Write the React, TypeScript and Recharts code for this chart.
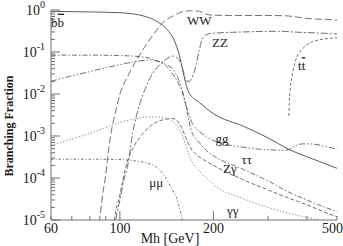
import { LineChart, Line, XAxis, YAxis, ReferenceDot } from "recharts";

const FONT = "'Liberation Serif', 'Times New Roman', serif";
const AXIS = "#707070";
const INK = "#1a1a1a";

// [Mh GeV, branching fraction]
const bbPts = [[60, 0.93], [80, 0.9], [100, 0.86], [110, 0.81], [120, 0.71], [130, 0.56], [140, 0.38], [150, 0.18], [155, 0.09], [160, 0.032], [165, 0.013], [170, 0.0088], [175, 0.0073], [180, 0.0063], [185, 0.0054], [190, 0.0045], [200, 0.0034], [250, 0.0017], [300, 0.0009], [350, 0.00048], [400, 0.00032], [450, 0.00023], [500, 0.00017]];
const wwPts = [[85, 5e-6], [86, 1e-5], [88, 4e-5], [90, 1.2e-4], [92, 5e-4], [94, 1.4e-3], [97, 4e-3], [100, 0.01], [105, 0.023], [110, 0.045], [120, 0.13], [130, 0.3], [136, 0.46], [140, 0.56], [150, 0.75], [160, 0.92], [170, 0.96], [180, 0.93], [190, 0.79], [200, 0.75], [250, 0.74], [300, 0.74], [340, 0.73], [360, 0.7], [400, 0.63], [450, 0.6], [500, 0.58]];
const zzPts = [[96, 5e-6], [97, 1e-5], [100, 3e-5], [103, 9e-5], [106, 2e-4], [110, 1.2e-3], [113, 3e-3], [116, 6e-3], [120, 0.012], [125, 0.024], [130, 0.038], [135, 0.052], [140, 0.065], [148, 0.08], [152, 0.075], [156, 0.06], [160, 0.035], [163, 0.021], [167, 0.02], [172, 0.028], [176, 0.05], [180, 0.11], [184, 0.2], [190, 0.26], [200, 0.28], [250, 0.3], [300, 0.31], [340, 0.31], [360, 0.3], [400, 0.29], [450, 0.28], [500, 0.27]];
const ttPts = [[350, 3e-3], [351, 0.006], [353, 0.012], [356, 0.02], [360, 0.032], [365, 0.05], [372, 0.08], [380, 0.1], [400, 0.15], [438, 0.195], [470, 0.21], [500, 0.22]];
const ggPts = [[60, 0.02], [70, 0.027], [80, 0.034], [90, 0.042], [100, 0.05], [110, 0.058], [120, 0.063], [125, 0.064], [130, 0.062], [140, 0.052], [150, 0.034], [155, 0.021], [160, 0.009], [165, 0.0042], [170, 0.0022], [180, 0.0013], [190, 0.00095], [200, 0.00078], [250, 0.00054], [300, 0.00047], [340, 0.00046], [355, 0.0005], [370, 0.0006], [390, 0.00065], [420, 0.00064], [460, 0.00056], [500, 0.00049]];
const tautauPts = [[60, 0.084], [80, 0.084], [100, 0.082], [110, 0.08], [120, 0.075], [130, 0.065], [136, 0.055], [140, 0.048], [150, 0.026], [155, 0.017], [160, 0.01], [165, 0.0035], [170, 0.0013], [180, 0.0007], [190, 0.00045], [200, 0.00034], [250, 0.00016], [300, 8.5e-5], [350, 4.6e-5], [400, 3e-5], [450, 2.1e-5], [500, 1.6e-5]];
const zgamPts = [[95, 5e-6], [96, 1e-5], [100, 4e-5], [104, 1.6e-4], [108, 3.8e-4], [111, 5.7e-4], [118, 1.1e-3], [125, 1.7e-3], [132, 2.2e-3], [140, 2.5e-3], [148, 2.6e-3], [153, 2.3e-3], [158, 1.6e-3], [163, 9e-4], [168, 5.5e-4], [175, 3.8e-4], [185, 2.8e-4], [200, 2e-4], [250, 9e-5], [300, 5.2e-5], [350, 3.3e-5], [400, 2.3e-5], [450, 1.6e-5], [500, 1.2e-5]];
const gamgamPts = [[60, 6e-4], [70, 8.5e-4], [80, 1.15e-3], [90, 1.6e-3], [100, 2.1e-3], [110, 2.5e-3], [120, 2.8e-3], [130, 2.85e-3], [140, 2.7e-3], [148, 2.2e-3], [155, 1.5e-3], [160, 9e-4], [165, 4.5e-4], [170, 2.6e-4], [180, 1.5e-4], [190, 1e-4], [200, 7e-5], [250, 3.2e-5], [300, 2e-5], [350, 1.45e-5], [400, 1.15e-5], [450, 9.5e-6], [500, 8e-6]];
const mumuPts = [[60, 2.8e-4], [80, 2.8e-4], [100, 2.75e-4], [110, 2.6e-4], [120, 2.35e-4], [130, 1.9e-4], [135, 1.5e-4], [140, 1.05e-4], [148, 5e-5], [152, 3.5e-5], [156, 1.8e-5], [158, 1.2e-5], [160, 7e-6], [162, 4e-6]];

const xTicks = [60, 70, 80, 90, 100, 200, 300, 400, 500];
const xLabelled = [60, 100, 200, 500];
const xMajor = [100, 200];
const decades = [-5, -4, -3, -2, -1, 0];
const minorSteps = [2, 3, 4, 5, 6, 7, 8, 9];
const yTicks = decades.flatMap((d) =>
  d === 0 ? [1] : [Math.pow(10, d), ...minorSteps.map((k) => k * Math.pow(10, d))]
);

// curve labels, placed in data coordinates
const curveLabels = [
  { text: "bb", bar: true, m: 63, br: 0.5 },
  { text: "WW", m: 180, br: 0.54 },
  { text: "ZZ", m: 210, br: 0.16 },
  { text: "tt", bar: true, m: 385, br: 0.046 },
  { text: "gg", m: 213, br: 8.3e-4 },
  { text: "ττ", m: 256, br: 2.7e-4 },
  { text: "Zγ", m: 226, br: 1.6e-4 },
  { text: "γγ", m: 231, br: 1.6e-5 },
  { text: "μμ", m: 131, br: 7.7e-5 },
];

const rows = (pts: number[][]) => pts.map(([m, br]) => ({ m, br }));

const LINE = "#606060";
const series = [
  { name: "bb", pts: bbPts, dash: undefined, color: "#4a4a4a" },
  { name: "WW", pts: wwPts, dash: "7 3", color: LINE },
  { name: "ZZ", pts: zzPts, dash: "7 2 2 2", color: LINE },
  { name: "tt", pts: ttPts, dash: "3 2", color: LINE },
  { name: "gg", pts: ggPts, dash: "6 2 1.5 2 1.5 2", color: LINE },
  { name: "tautau", pts: tautauPts, dash: "5 2 1.5 2", color: LINE },
  { name: "Zgam", pts: zgamPts, dash: "4 2", color: LINE },
  { name: "gamgam", pts: gamgamPts, dash: "1.2 2", color: "#707070" },
  { name: "mumu", pts: mumuPts, dash: "2.5 2 1 2", color: LINE },
];

const isDecade = (v: number) => Math.abs(Math.log10(v) - Math.round(Math.log10(v))) < 1e-6;

function LeftTick({ x, y, payload }: any) {
  const v = payload.value as number;
  const major = isDecade(v);
  return (
    <g>
      <line x1={x} x2={x + (major ? 9 : 4)} y1={y} y2={y} stroke={AXIS} />
      {major && (
        <text x={x - 6} y={y + 5} textAnchor="end" fontFamily={FONT} fontSize={14} fill={INK}>
          10
          <tspan dy={-7} fontSize={10}>
            {Math.round(Math.log10(v))}
          </tspan>
        </text>
      )}
    </g>
  );
}

function RightTick({ x, y, payload }: any) {
  const major = isDecade(payload.value);
  return <line x1={x} x2={x - (major ? 9 : 4)} y1={y} y2={y} stroke={AXIS} />;
}

function BottomTick({ x, y, payload }: any) {
  const v = payload.value as number;
  const len = xMajor.includes(v) ? 9 : 4;
  const isLast = v === xTicks[xTicks.length - 1];
  return (
    <g>
      <line x1={x} x2={x} y1={y} y2={y - len} stroke={AXIS} />
      {xLabelled.includes(v) && (
        <text
          x={isLast ? x + 6 : x}
          y={y + 13}
          textAnchor={isLast ? "end" : "middle"}
          fontFamily={FONT}
          fontSize={14}
          fill={INK}
        >
          {v}
        </text>
      )}
    </g>
  );
}

function TopTick({ x, y, payload }: any) {
  const len = xMajor.includes(payload.value) ? 9 : 4;
  return <line x1={x} x2={x} y1={y} y2={y + len} stroke={AXIS} />;
}

function CurveLabel({ viewBox, text, bar }: any) {
  const cx = viewBox.x + viewBox.width / 2;
  const cy = viewBox.y + viewBox.height / 2;
  return (
    <text x={cx} y={cy + 4} textAnchor="middle" fontFamily={FONT} fontSize={13} fill={INK}>
      {bar ? (
        <>
          {text[0]}
          <tspan style={{ textDecoration: "overline" }}>{text[1]}</tspan>
        </>
      ) : (
        text
      )}
    </text>
  );
}

export default function App() {
  return (
    <div style={{ position: "absolute", left: 0, top: 0, width: 343, height: 246 }}>
      <LineChart width={343} height={246} margin={{ top: 10, right: 6, bottom: 0, left: 0 }}>
        <XAxis
          dataKey="m"
          type="number"
          scale="log"
          domain={[60, 500]}
          allowDataOverflow
          ticks={xTicks}
          interval={0}
          tickSize={0}
          tickMargin={0}
          tickLine={false}
          tick={<BottomTick />}
          height={26}
          stroke={AXIS}
        />
        <XAxis
          xAxisId="top"
          orientation="top"
          dataKey="m"
          type="number"
          scale="log"
          domain={[60, 500]}
          allowDataOverflow
          ticks={xTicks}
          interval={0}
          tickSize={0}
          tickMargin={0}
          tickLine={false}
          tick={<TopTick />}
          height={0}
          stroke={AXIS}
        />
        <YAxis
          type="number"
          scale="log"
          domain={[1e-5, 1]}
          allowDataOverflow
          ticks={yTicks}
          interval={0}
          tickSize={0}
          tickMargin={0}
          tickLine={false}
          tick={<LeftTick />}
          width={51}
          stroke={AXIS}
        />
        <YAxis
          yAxisId="right"
          orientation="right"
          type="number"
          scale="log"
          domain={[1e-5, 1]}
          allowDataOverflow
          ticks={yTicks}
          interval={0}
          tickSize={0}
          tickMargin={0}
          tickLine={false}
          tick={<RightTick />}
          width={0}
          stroke={AXIS}
        />
        {series.map((s) => (
          <Line
            key={s.name}
            data={rows(s.pts)}
            dataKey="br"
            type="monotone"
            stroke={s.color}
            strokeWidth={0.9}
            strokeDasharray={s.dash}
            dot={false}
            isAnimationActive={false}
          />
        ))}
        {curveLabels.map((l) => (
          <ReferenceDot
            key={l.text}
            x={l.m}
            y={l.br}
            r={1}
            fill="none"
            stroke="none"
            label={<CurveLabel text={l.text} bar={l.bar} />}
          />
        ))}
      </LineChart>
      {/* axis titles */}
      <svg
        width={343}
        height={246}
        style={{ position: "absolute", left: 0, top: 0, pointerEvents: "none" }}
      >
        <text x={170} y={243} textAnchor="middle" fontFamily={FONT} fontSize={14} fill={INK}>
          Mh [GeV]
        </text>
        <text
          x={13}
          y={126}
          transform="rotate(-90 13 126)"
          textAnchor="middle"
          fontFamily={FONT}
          fontSize={12}
          fontWeight="bold"
          fill={INK}
        >
          Branching Fraction
        </text>
      </svg>
    </div>
  );
}
